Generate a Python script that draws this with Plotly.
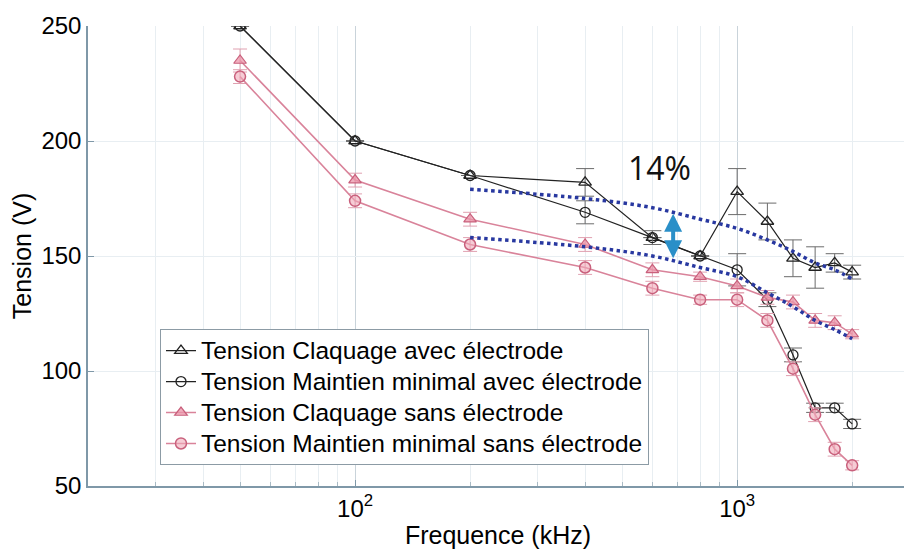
import math
import plotly.graph_objects as go

freq = [50, 100, 200, 400, 600, 800, 1000, 1200, 1400, 1600, 1800, 2000]
claq_avec = [250, 200, 185, 182, 158, 150, 178, 165, 149, 145, 147, 143]
maint_avec = [250, 200, 185, 169, 158, 150, 144, 131, 107, 84, 84, 77]
claq_sans = [235, 183, 166, 155, 144, 141, 137, 132, 130, 122, 121, 116]
maint_sans = [228, 174, 155, 145, 136, 131, 131, 122, 101, 81, 66, 59]

err_claq_avec = [0, 0, 0, 6, 0, 0, 10, 8, 8, 9, 4, 3]
err_maint_avec = [0, 0, 0, 5, 3, 0, 7, 3, 3, 2, 2, 2]
err_claq_sans = [5, 3, 3, 3, 3, 2, 3, 3, 3, 3, 3, 2]
err_maint_sans = [3, 3, 3, 3, 3, 2, 3, 3, 3, 3, 3, 2]

guide_freq = [200, 400, 600, 800, 1000, 1200, 1400, 1600, 1800, 2000]
guide_upper = [179, 175, 171, 166, 162, 157, 152, 147, 144, 140]
guide_lower = [158, 154, 150, 145, 141, 134, 128, 122, 118, 114]

names = [
    "Tension Claquage avec électrode",
    "Tension Maintien minimal avec électrode",
    "Tension Claquage sans électrode",
    "Tension Maintien minimal sans électrode",
]

FONT = "Arial, Liberation Sans, sans-serif"
black = "#222222"
pink_line = "#D9839A"
pink_mark = "#C9607C"


def leg(name):
    return '<span style="font-size:24.5px">' + name + "</span>"


fig = go.Figure()

fig.add_trace(go.Scatter(
    x=freq, y=claq_avec, name=leg(names[0]), mode="lines+markers",
    line=dict(color=black, width=1.2),
    marker=dict(symbol="triangle-up-open", size=11, color=black, line=dict(width=1.3)),
    error_y=dict(type="data", array=err_claq_avec, color="#6b6b6b", thickness=1, width=9),
))
fig.add_trace(go.Scatter(
    x=freq, y=maint_avec, name=leg(names[1]), mode="lines+markers",
    line=dict(color=black, width=1.2),
    marker=dict(symbol="circle-open", size=10, color=black, line=dict(width=1.3)),
    error_y=dict(type="data", array=err_maint_avec, color="#6b6b6b", thickness=1, width=9),
))
fig.add_trace(go.Scatter(
    x=freq, y=claq_sans, name=leg(names[2]), mode="lines+markers",
    line=dict(color=pink_line, width=1.6),
    marker=dict(symbol="triangle-up", size=11, color="rgba(235,150,170,0.75)",
                line=dict(width=1.2, color=pink_mark)),
    error_y=dict(type="data", array=err_claq_sans, color="#E0A0B0", thickness=1, width=7),
))
fig.add_trace(go.Scatter(
    x=freq, y=maint_sans, name=leg(names[3]), mode="lines+markers",
    line=dict(color=pink_line, width=1.6),
    marker=dict(symbol="circle", size=11, color="rgba(240,170,185,0.6)",
                line=dict(width=1.5, color=pink_mark)),
    error_y=dict(type="data", array=err_maint_sans, color="#E0A0B0", thickness=1, width=7),
))

for gy in (guide_upper, guide_lower):
    fig.add_trace(go.Scatter(
        x=guide_freq, y=gy, mode="lines", showlegend=False, hoverinfo="skip",
        line=dict(color="#2838A0", width=3.5, dash="dot", shape="spline"),
    ))

minor_vals = [20, 30, 40, 50, 60, 70, 80, 90, 200, 300, 400, 500, 600, 700, 800, 900, 2000]

fig.update_xaxes(
    type="log", range=[math.log10(20), math.log10(2800)],
    tickvals=[100, 1000], ticktext=["10<sup>2</sup>", "10<sup>3</sup>"],
    ticks="inside", ticklen=6, tickcolor="#7F98A8",
    showline=True, linecolor="#7F98A8", linewidth=1.5,
    showgrid=True, gridcolor="#C9D3DA", gridwidth=1,
    minor=dict(tickvals=minor_vals, ticks="inside", ticklen=4, tickcolor="#A9BAC4",
               showgrid=True, gridcolor="#E8EEF2", gridwidth=1),
    tickfont=dict(family=FONT, size=24, color="black"),
    title=dict(text="Frequence (kHz)", font=dict(family=FONT, size=25, color="black"), standoff=6),
    zeroline=False, automargin=False,
)
fig.update_yaxes(
    range=[50, 250], tickvals=[50, 100, 150, 200, 250],
    ticks="inside", ticklen=6, tickcolor="#7F98A8",
    showline=True, linecolor="#7F98A8", linewidth=1.5,
    showgrid=True, gridcolor="#E8EEF2", gridwidth=1,
    tickfont=dict(family=FONT, size=24, color="black"),
    title=dict(text="Tension (V)", font=dict(family=FONT, size=25, color="black"), standoff=6),
    zeroline=False, automargin=False,
)

fig.add_annotation(
    x=math.log10(628), y=188.5, xref="x", yref="y", text="14%", showarrow=False,
    font=dict(family="Open Sans, sans-serif", size=32, color="#111111"),
)
fig.add_annotation(
    x=math.log10(680), y=149, xref="x", yref="y", ax=0, ay=-46, text="",
    showarrow=True, arrowhead=2, arrowside="end+start", arrowsize=0.9,
    arrowwidth=4, arrowcolor="#2A8FC8",
)

# the page adds an 8px body margin, so the figure is 8px smaller and margins shifted
fig.update_layout(
    width=904, height=541,
    margin=dict(l=80, r=4, t=18, b=63),
    paper_bgcolor="white", plot_bgcolor="white",
    font=dict(family=FONT, color="black"),
    showlegend=True,
    legend=dict(
        x=0.0878, y=0.341, xanchor="left", yanchor="top",
        bgcolor="white", bordercolor="#8C9BA5", borderwidth=1,
        font=dict(family=FONT, size=21.5, color="black"),
        itemwidth=30, tracegroupgap=0,
    ),
)

fig.write_html("out.html")
